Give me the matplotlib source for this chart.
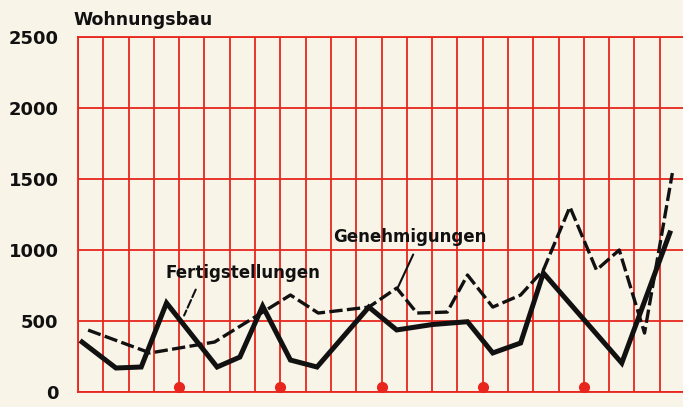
import matplotlib.pyplot as plt

# Wohnungsbau (Quartale, Achse in Quartalsschritten)
fertig_x = [0.16, 1.5, 2.5, 3.5, 5.5, 6.4, 7.3, 8.4, 9.45, 11.5, 12.6, 14.0, 15.4,
            16.4, 17.5, 18.4, 21.5, 23.4]
fertig_y = [352, 169, 176, 627, 176, 246, 605, 225, 176, 598, 437, 475, 495,
            275, 345, 838, 204, 1120]

genehm_x = [0.4, 2.85, 5.4, 8.4, 9.5, 11.5, 12.6, 13.4, 14.6, 15.4, 16.4, 17.5,
            18.4, 19.45, 20.5, 21.4, 22.4, 23.5]
genehm_y = [436, 275, 352, 683, 556, 598, 732, 556, 563, 824, 598, 683,
            859, 1303, 859, 1000, 415, 1542]

year_marks = [4, 8, 12, 16, 20]
y_ticks = [0, 500, 1000, 1500, 2000, 2500]

red = '#e8261e'
paper = '#f9f4e8'
ink = '#111111'

fig = plt.figure(figsize=(6.83, 4.07), dpi=100, facecolor=paper)
ax = fig.add_axes([78 / 683, 15 / 407, 607 / 683, 355 / 407])
ax.set_facecolor(paper)

ax.set_xlim(0, 24)
ax.set_ylim(0, 2500)
ax.set_xticks(range(0, 25))
ax.set_yticks(y_ticks)
ax.set_xticklabels([])
ax.set_yticklabels([str(v) for v in y_ticks], fontsize=13, fontweight='bold',
                   color=ink)
ax.tick_params(length=0, pad=14)
ax.grid(True, color=red, lw=1.3)
ax.set_axisbelow(True)
for s in ax.spines.values():
    s.set_color(red)
    s.set_linewidth(1.3)

# Linien
ax.plot(fertig_x, fertig_y, color=ink, lw=3.6, solid_joinstyle='miter', zorder=3)
ax.plot(genehm_x, genehm_y, color=ink, lw=2.4, dashes=(4, 1.3), zorder=3)

# Jahresmarken
ax.plot(year_marks, [35] * len(year_marks), 'o', color=red, ms=7, clip_on=False,
        zorder=4)

# Beschriftungen
ax.text(10.08, 1056, 'Genehmigungen', fontsize=12, fontweight='bold', color=ink,
        va='baseline', ha='left')
ax.annotate('', xy=(12.6, 718), xytext=(13.3, 986),
            arrowprops=dict(arrowstyle='-', lw=1.5, color=ink))
ax.text(3.44, 803, 'Fertigstellungen', fontsize=12, fontweight='bold', color=ink,
        va='baseline', ha='left')
ax.annotate('', xy=(4.15, 521), xytext=(4.7, 739),
            arrowprops=dict(arrowstyle='-', lw=1.5, color=ink, linestyle=(0, (4, 1.5))))

fig.text(73 / 683, 1 - 25 / 407, 'Wohnungsbau', fontsize=12.5, fontweight='bold',
         color=ink, ha='left', va='baseline')

fig.savefig('out.png', dpi=100, facecolor=paper)
